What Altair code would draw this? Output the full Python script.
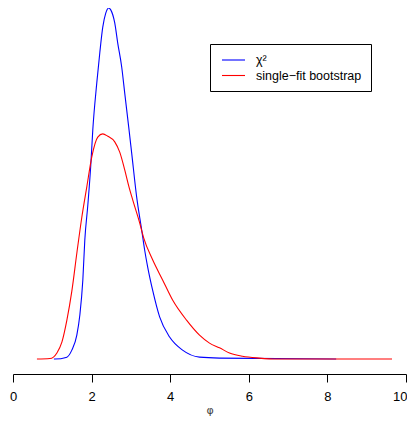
import altair as alt
import pandas as pd

# chi-square density curve (phi, density)
chi_x = [1.04, 1.066, 1.371, 1.497, 1.624, 1.701, 1.777, 1.827, 1.904, 1.980, 2.030,
         2.132, 2.208, 2.284, 2.360, 2.437, 2.487, 2.589, 2.665, 2.766, 2.843, 2.944,
         3.020, 3.147, 3.274, 3.350, 3.426, 3.553, 3.731, 3.985, 4.315, 4.746, 5.254, 8.223]
chi_y = [0.0, 0.0, 0.004, 0.019, 0.051, 0.094, 0.169, 0.254, 0.329, 0.415, 0.489,
         0.590, 0.654, 0.709, 0.739, 0.750, 0.746, 0.718, 0.675, 0.624, 0.568, 0.496,
         0.440, 0.346, 0.276, 0.233, 0.197, 0.147, 0.090, 0.047, 0.019, 0.004, 0.002, 0.0]

# single-fit bootstrap density curve
boot_x = [0.609, 0.939, 1.117, 1.244, 1.371, 1.497, 1.624, 1.751, 1.878, 2.005, 2.157,
          2.284, 2.411, 2.589, 2.716, 2.843, 2.944, 3.046, 3.223, 3.325, 3.553, 3.807,
          4.061, 4.416, 4.746, 5.0, 5.254, 5.508, 5.838, 6.269, 6.701, 9.645]
boot_y = [0.0, 0.001, 0.013, 0.036, 0.083, 0.145, 0.226, 0.303, 0.368, 0.432, 0.474,
          0.481, 0.476, 0.464, 0.442, 0.404, 0.370, 0.340, 0.291, 0.259, 0.212, 0.169,
          0.126, 0.083, 0.051, 0.034, 0.024, 0.013, 0.006, 0.002, 0.0, 0.0]

series = ["χ²", "single−fit bootstrap"]
colors = ["#0000FF", "#FF0000"]

df = pd.concat([
    pd.DataFrame({"phi": chi_x, "density": chi_y, "series": series[0], "order": range(len(chi_x))}),
    pd.DataFrame({"phi": boot_x, "density": boot_y, "series": series[1], "order": range(len(boot_x))}),
])

chart = alt.Chart(df).mark_line(strokeWidth=1.1, clip=False, interpolate="monotone").encode(
    x=alt.X("phi:Q", title="φ",
            scale=alt.Scale(domain=[0, 10], nice=False, zero=False),
            axis=alt.Axis(values=[0, 2, 4, 6, 8, 10], grid=False, tickSize=8,
                          labelPadding=8, titlePadding=1, domainColor="black",
                          tickColor="black", labelColor="black", titleColor="#444",
                          labelFontSize=13, titleFontSize=11, titleFontWeight="normal",
                          labelFont="Liberation Sans", titleFont="DejaVu Sans",
                          labelAlign={"condition": {"test": "datum.value >= 10", "value": "right"},
                                      "value": "center"},
                          labelOffset={"condition": {"test": "datum.value >= 10", "value": 1},
                                       "value": 0},
                          labelFlush=False)),
    y=alt.Y("density:Q", axis=None,
            scale=alt.Scale(domain=[-0.032, 0.75], nice=False, zero=False)),
    color=alt.Color("series:N",
                    scale=alt.Scale(domain=series, range=colors),
                    legend=alt.Legend(title=None, orient="none", legendX=197, legendY=36,
                                      symbolType="M-0.67,0L3.17,0", symbolSize=144,
                                      symbolStrokeWidth=1.1, strokeColor="black",
                                      fillColor="white", padding=9,
                                      labelFont="Liberation Sans", labelFontSize=12.5,
                                      labelColor="black", labelOffset=23,
                                      rowPadding=1.5)),
    order="order:Q",
).properties(
    width=393, height=366,
    padding={"left": 5, "top": 0, "right": 1, "bottom": 45},
    autosize=alt.AutoSizeParams(type="none"),
).configure_view(stroke=None)

chart.save("out.html", embed_options={"renderer": "svg", "actions": False})
